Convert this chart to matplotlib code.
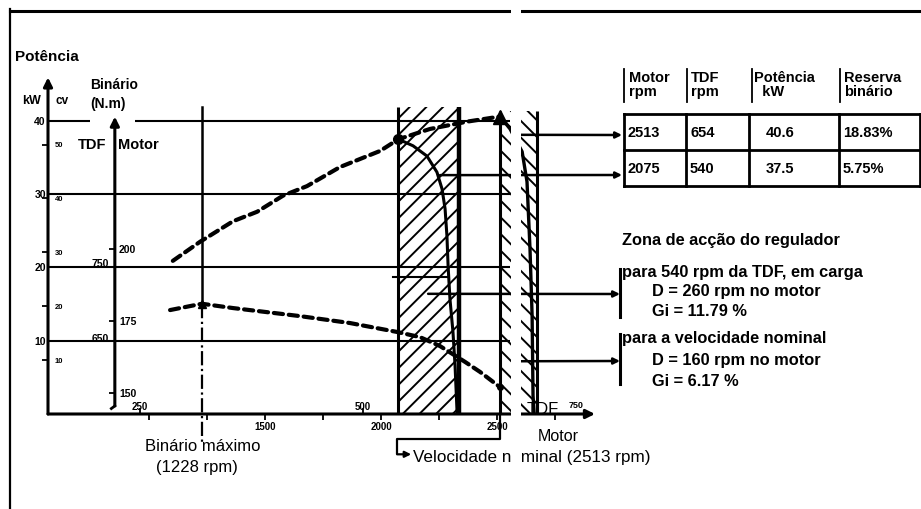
import matplotlib

matplotlib.use("Agg")
import matplotlib.pyplot as plt
from matplotlib.lines import Line2D
from matplotlib.patches import Rectangle

W, H = 921, 510
plt.rcParams["font.family"] = ["Liberation Sans Narrow", "Liberation Sans", "DejaVu Sans"]
plt.rcParams["hatch.linewidth"] = 1.4

# power curve, motor rpm -> kW (dashed, upper)
power_rpm = [1103, 1220, 1362, 1466, 1578, 1681, 1823, 1996, 2075, 2211, 2371, 2513]
power_kw = [20.9, 23.5, 26.3, 27.6, 29.8, 31.1, 33.7, 35.9, 37.5, 38.9, 39.9, 40.6]

# torque curve, motor rpm -> N.m (dashed, lower)
torque_rpm = [1091, 1228, 1362, 1651, 1866, 2069, 2168, 2254, 2362, 2427, 2513]
torque_nm = [178.8, 181.0, 179.5, 176.7, 174.3, 171.2, 169.4, 166.3, 160.8, 157.3, 152.0]

# governor line for 540 rpm PTO
gov540_rpm = [2075, 2138, 2198, 2241, 2263, 2276, 2284, 2289, 2297, 2310, 2319, 2328]
gov540_kw = [37.5, 36.6, 35.2, 33.0, 30.7, 28.0, 24.3, 20.2, 15.7, 11.2, 6.6, 0.0]

# governor line for nominal speed
govnom_rpm = [2513, 2556, 2608, 2629, 2642, 2651, 2655, 2660]
govnom_kw = [40.6, 38.9, 35.8, 31.7, 22.5, 13.4, 2.5, 0.0]

zone_540 = (2075, 2335)
zone_nom = (2513, 2673)
max_torque_rpm = 1228
nominal_rpm = 2513
tdf_ratio = 2513 / 654

kw_ticks = [10, 20, 30, 40]
cv_ticks = [10, 20, 30, 40, 50]
motor_torque_ticks = [150, 175, 200]
tdf_torque_ticks = [650, 750]
motor_rpm_labels = [1500, 2000, 2500]
motor_rpm_ticks = [1000, 1250, 1500, 1750, 2000, 2250, 2500, 2750]
tdf_rpm_labels = [250, 500]

table_header = ["Motor\nrpm", "TDF\nrpm", "Potência\n  kW", "Reserva\nbinário"]
table_rows = [["2513", "654", "40.6", "18.83%"],
              ["2075", "540", "37.5", "5.75%"]]


def fx(x):
    return x / W


def fy(y):
    return 1 - y / H


def ftext(x, y, s, **kw):
    kw.setdefault("va", "center")
    kw.setdefault("ha", "left")
    fig.text(fx(x), fy(y), s, **kw)


def fline(xs, ys, lw=1.8, z=3):
    fig.add_artist(Line2D([fx(v) for v in xs], [fy(v) for v in ys],
                          transform=fig.transFigure, color="k", lw=lw, zorder=z))


fig = plt.figure(figsize=(W / 100, H / 100), dpi=100)
ax = fig.add_axes([fx(48), fy(415), (595 - 48) / W, (415 - 75) / H])
ax.set_xlim(565, 2922)
ax.set_ylim(0, 46.4)
ax.axis("off")
ax_t = ax.twinx()
ax_t.set_ylim(142.7, 260.8)
ax_t.axis("off")

arrow = dict(arrowstyle="-|>", lw=2.2, color="k", mutation_scale=13, shrinkA=0, shrinkB=0)

# axes
ax.annotate("", xy=(1, 0), xytext=(0, 0), xycoords="axes fraction", arrowprops=arrow)
ax.annotate("", xy=(0, 0.99), xytext=(0, 0), xycoords="axes fraction", arrowprops=arrow)
torque_axis_rpm = 853
ax_t.annotate("", xy=(torque_axis_rpm, 246), xytext=(torque_axis_rpm, 145.5), arrowprops=arrow)
ax_t.plot([torque_axis_rpm, torque_axis_rpm - 15], [145.5, 144.6], "k", lw=2)

# grid lines
for k in kw_ticks:
    if k == 40:
        ax.hlines(k, 565, 746, color="k", lw=1.5)
        ax.hlines(k, 940, 2556, color="k", lw=1.5)
    else:
        ax.hlines(k, 565, 2556, color="k", lw=1.5)

# regulator zones
ax.add_patch(Rectangle((zone_540[0], 0), zone_540[1] - zone_540[0], 41.9,
                       hatch="//", fill=False, edgecolor="k", lw=0))
ax.vlines(zone_540[0], 0, 41.9, color="k", lw=2.2)
ax.vlines(zone_540[1], 0, 41.9, color="k", lw=3.2)
ax.add_patch(Rectangle((zone_nom[0], 0), zone_nom[1] - zone_nom[0], 41.4,
                       hatch="\\\\", fill=False, edgecolor="k", lw=0))
ax.vlines(zone_nom[0], 0, 41.4, color="k", lw=2.2)
ax.vlines(zone_nom[1], 0, 41.4, color="k", lw=2.2)

# curves
dash = (0, (2.2, 1.4))
ax.plot(power_rpm, power_kw, color="k", lw=3, ls=dash, dash_capstyle="round")
ax_t.plot(torque_rpm, torque_nm, color="k", lw=3, ls=dash, dash_capstyle="round")
ax.plot(gov540_rpm, gov540_kw, color="k", lw=2.2)
ax.plot(govnom_rpm, govnom_kw, color="k", lw=2.4)
ax.plot(2075, 37.5, "o", color="k", ms=7)
ax.plot(nominal_rpm, 40.6, "^", color="k", ms=10, clip_on=False)
ax_t.plot(max_torque_rpm, 181.0, "^", color="k", ms=6)
ax_t.plot(nominal_rpm, 152.0, "o", color="k", ms=4)

# max torque marker line
ax.plot([max_torque_rpm] * 2, [41.9, 15.0], color="k", lw=1.8, clip_on=False)
ax.plot([max_torque_rpm] * 2, [15.0, -4.1], color="k", lw=1.6, ls="-.", clip_on=False)

# short line inside the 540 zone
ax.plot([2052, 2284], [18.7, 18.7], color="k", lw=1.5)

# axis ticks and labels
yt = ax.get_yaxis_transform()
for k in kw_ticks:
    ax.text(-0.004, k, str(k), transform=yt, ha="right", va="center", fontsize=7.5, fontweight="bold")
for c in cv_ticks:
    ax.plot([0.0], [c * 0.7355], ls="none", marker=0, ms=4, mew=1.3, color="k", transform=yt, clip_on=False)
    ax.text(0.012, c * 0.7355, str(c), transform=yt, ha="left", va="center", fontsize=5.5, fontweight="bold")
for t in motor_torque_ticks:
    ax_t.plot([torque_axis_rpm], [t], ls="none", marker=0, ms=4, mew=1.3, color="k")
    ax_t.annotate(str(t), xy=(torque_axis_rpm, t), xytext=(3, 0), textcoords="offset points",
                  ha="left", va="center", fontsize=7.5, fontweight="bold")
for t in tdf_torque_ticks:
    ax_t.annotate(str(t), xy=(torque_axis_rpm, t / tdf_ratio), xytext=(-4, 0), textcoords="offset points",
                  ha="right", va="center", fontsize=7.5, fontweight="bold")
ax.plot(motor_rpm_ticks, [0] * len(motor_rpm_ticks), ls="none", marker=3, ms=4, mew=1.3, color="k", clip_on=False)
ax.plot([v * tdf_ratio for v in tdf_rpm_labels], [0, 0], ls="none", marker=2, ms=4, mew=1.3, color="k", clip_on=False)
for r in motor_rpm_labels:
    ax.annotate(str(r), xy=(r, 0), xytext=(0, -9), textcoords="offset points",
                ha="center", va="center", fontsize=7, fontweight="bold")
for r in tdf_rpm_labels:
    ax.annotate(str(r), xy=(r * tdf_ratio, 0), xytext=(0, 6), textcoords="offset points",
                ha="center", va="center", fontsize=7, fontweight="bold")

# nominal speed bracket
ax.plot([nominal_rpm, nominal_rpm, 2069, 2069], [0, -3.4, -3.4, -5.3], color="k", lw=1.6, clip_on=False)
ax.annotate("", xy=(2130, -5.5), xytext=(2069, -5.5), annotation_clip=False,
            arrowprops=dict(arrowstyle="-|>", lw=1.6, color="k", mutation_scale=9, shrinkA=0, shrinkB=0))

# connectors to the table and the brackets
connectors = [((2600, 38.1), (622, 136)), ((2254, 32.6), (622, 176)),
              ((2203, 16.4), (620, 295)), ((2600, 7.2), (620, 362))]
for start, end in connectors:
    ax.annotate("", xy=(fx(end[0]), fy(end[1])), xycoords="figure fraction", xytext=start, textcoords="data",
                arrowprops=dict(arrowstyle="-|>", lw=1.8, color="k", mutation_scale=9, shrinkA=0, shrinkB=0))

# left labels
bold = dict(fontweight="bold")
ftext(15, 57, "Potência", fontsize=11, **bold)
ftext(22, 101, "kW", fontsize=9, **bold)
ftext(55, 101, "cv", fontsize=8.5, **bold)
ftext(90, 85, "Binário", fontsize=10, **bold)
ftext(90, 104, "(N.m)", fontsize=10, **bold)
ftext(78, 145, "TDF", fontsize=10.5, **bold)
ftext(118, 145, "Motor", fontsize=10.5, **bold)
ftext(203, 447, "Binário máximo", fontsize=12, ha="center")
ftext(197, 468, "(1228 rpm)", fontsize=12, ha="center")
ftext(413, 458, "Velocidade nominal (2513 rpm)", fontsize=12.3)
ftext(558, 437, "Motor", fontsize=11.5, ha="center")
ftext(527, 410, "TDF", fontsize=12)
ftext(569, 406, "750", fontsize=6.5, **bold)

# table
cols = [624, 686, 749, 839, 920]
rows = [115, 151, 187]
for y in rows:
    fline([cols[0], cols[-1]], [y, y], lw=2)
for x in cols:
    fline([x, x], [rows[0], rows[-1]], lw=2)
for x in [624, 687, 752, 840]:
    fline([x, x], [70, 103], lw=1.3)
for i, h in enumerate(table_header):
    ftext(cols[i] + 5, 85, h, fontsize=10.5, linespacing=1.05, **bold)
for j, row in enumerate(table_rows):
    for i, v in enumerate(row):
        ftext(cols[i] + 4 if i != 2 else cols[i] + 17, (rows[j] + rows[j + 1]) / 2, v, fontsize=10.5, **bold)

# regulator notes
notes_fs = 11.8
ftext(622, 241, "Zona de acção do regulador", fontsize=notes_fs, **bold)
fline([620, 620], [270, 318], lw=2.2)
fline([620, 620], [335, 385], lw=2.2)
ftext(622, 272, "para 540 rpm da TDF, em carga", fontsize=notes_fs, **bold)
ftext(652, 292, "D = 260 rpm no motor", fontsize=notes_fs, **bold)
ftext(652, 312, "Gi = 11.79 %", fontsize=notes_fs, **bold)
ftext(622, 339, "para a velocidade nominal", fontsize=notes_fs, **bold)
ftext(652, 361, "D = 160 rpm no motor", fontsize=notes_fs, **bold)
ftext(652, 382, "Gi = 6.17 %", fontsize=notes_fs, **bold)

# frame
fline([10, 10], [10, 510], lw=1.6, z=4)
fline([10, 921], [12, 12], lw=2.2, z=4)

# white strip from the scan
fig.add_artist(Rectangle((fx(511), fy(470)), 10 / W, 470 / H, transform=fig.transFigure,
                         facecolor="white", edgecolor="none", zorder=10))

fig.savefig("out.png", dpi=100, facecolor="white")
